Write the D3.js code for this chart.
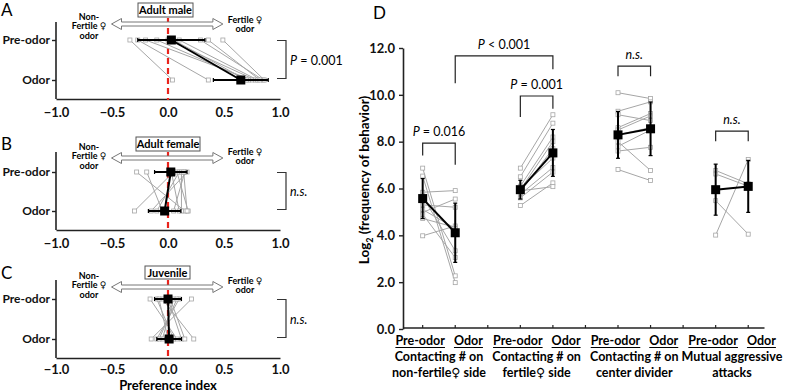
<!DOCTYPE html>
<html lang="en">
<head>
<meta charset="UTF-8">
<title>Preference index and behavior frequency</title>
<style>
  body { margin: 0; background: #fff; }
  svg text { font-family: Lato, "Open Sans", "DejaVu Sans", sans-serif; }
</style>
</head>
<body>
<script src="https://cdn.jsdelivr.net/npm/d3@7"></script>
<script>
// ---- data: panels A-C (preference index) ----
var conditions = ["Pre-odor", "Odor"];
var panelTitles = ["Adult male", "Adult female", "Juvenile"];
var panelLetters = ["A", "B", "C"];
var panelStats = ["P = 0.001", "n.s.", "n.s."];
var xTicks = [-1.0, -0.5, 0.0, 0.5, 1.0];

var maleMean = [0.03, 0.65], maleSd = [0.30, 0.245];
var malePre  = [-0.34, -0.27, -0.20, -0.10, 0.00, 0.05, 0.10, 0.29, 0.36, 0.49];
var maleOdor = [0.04, 0.36, 0.75, 0.72, 0.78, 0.70, 0.80, 0.85, 0.82, 0.86];

var femaleMean = [0.025, -0.03], femaleSd = [0.145, 0.145];
var femalePre  = [-0.28, -0.19, 0.05, 0.08, 0.10, 0.12, 0.15, 0.17, 0.03, 0.14];
var femaleOdor = [0.15, -0.05, -0.30, 0.18, -0.10, 0.12, 0.05, -0.15, 0.10, 0.17];

var juvMean = [0.0, 0.01], juvSd = [0.12, 0.11];
var juvPre  = [-0.16, 0.21, -0.05, 0.00, 0.05, -0.10, 0.10, 0.02, -0.08, 0.08];
var juvOdor = [0.08, -0.15, 0.23, 0.12, -0.05, 0.05, -0.10, 0.15, 0.00, -0.08];

// ---- data: panel D (log2 frequency) ----
var categories = [
  ["Contacting # on", "non-fertile\u2640 side"],
  ["Contacting # on", "fertile\u2640 side"],
  ["Contacting # on", "center divider"],
  ["Mutual aggressive", "attacks"]
];
var yTicksD = [0, 2, 4, 6, 8, 10, 12];
var meanPre  = [5.57, 5.95, 8.29, 5.95];
var meanOdor = [4.11, 7.52, 8.55, 6.09];
var sdPre    = [0.855, 0.40, 1.00, 1.09];
var sdOdor   = [1.265, 1.00, 1.145, 1.11];
var indivPre = [
  [6.87, 6.53, 5.84, 5.65, 5.30, 4.98, 4.90, 4.72, 3.98, 5.10],
  [6.87, 6.50, 6.10, 5.95, 5.85, 5.75, 5.60, 5.27, 5.90, 6.00],
  [10.09, 9.30, 9.15, 8.60, 8.50, 8.30, 8.00, 7.80, 7.60, 6.81],
  [6.77, 6.62, 5.48, 4.01]
];
var indivOdor = [
  [2.27, 1.98, 5.91, 3.34, 5.20, 5.55, 3.05, 4.34, 4.40, 4.30],
  [9.15, 8.79, 8.20, 8.00, 7.70, 6.90, 6.70, 6.24, 6.08, 7.30],
  [9.84, 9.70, 8.90, 9.20, 9.10, 8.60, 6.77, 8.50, 7.76, 6.34],
  [6.20, 6.10, 4.05, 7.24]
];
var statLabels = ["P = 0.016", "P = 0.001", "n.s.", "n.s.", "P < 0.001"];

var W = 785, H = 392;
var svg = d3.select("body").append("svg").attr("width", W).attr("height", H);
var grey = "#a6a6a6";

// ================= Panels A-C =================
var x = d3.scaleLinear().domain([-1, 1]).range([56, 280]);

var panels = [
  { mean: maleMean, sd: maleSd, pre: malePre, odor: maleOdor,
    box: [3, 17], arrow: 24, non: 16, fert: 19, yPre: 40, yOdor: 80, axis: 99, top: 22 },
  { mean: femaleMean, sd: femaleSd, pre: femalePre, odor: femaleOdor,
    box: [137, 151], arrow: 158, non: 146, fert: 151, yPre: 172, yOdor: 211, axis: 230, top: 152 },
  { mean: juvMean, sd: juvSd, pre: juvPre, odor: juvOdor,
    box: [266, 279], arrow: 287, non: 275, fert: 280, yPre: 299, yOdor: 339, axis: 358, top: 280 }
];

panels.forEach(function (p, k) {
  var g = svg.append("g");
  var y = d3.scalePoint().domain(conditions).range([p.yPre, p.yOdor]);

  // letter
  g.append("text").attr("x", 1).attr("y", p.box[0] + 13)
    .attr("font-size", 17).text(panelLetters[k]);

  // x axis
  var xa = g.append("g").attr("transform", "translate(0," + p.axis + ")")
    .call(d3.axisBottom(x).tickValues(xTicks).tickFormat(d3.format(".1f")).tickSize(0).tickPadding(k === 2 ? 7 : 9));
  xa.select(".domain").attr("stroke", "#222").attr("stroke-width", 1.6);
  xa.selectAll("text").attr("font-size", 13).attr("font-weight", "bold")
    .attr("font-family", "Lato, sans-serif").attr("fill", "#111");

  // y axis
  var ya = g.append("g").attr("transform", "translate(56,0)")
    .call(d3.axisLeft(y).tickSize(4).tickSizeOuter(0).tickPadding(2));
  ya.select(".domain").attr("d", "M0," + p.top + "V" + p.axis)
    .attr("stroke", "#222").attr("stroke-width", 1.6);
  ya.selectAll("line").attr("stroke", "#222").attr("stroke-width", 1.4);
  ya.selectAll("text").attr("font-size", 12).attr("font-weight", "bold")
    .attr("font-family", "Lato, sans-serif").attr("fill", "#111");

  // red dashed zero line
  g.append("line").attr("x1", x(0)).attr("x2", x(0))
    .attr("y1", p.box[1] + 1).attr("y2", p.axis + 1)
    .attr("stroke", "#e8231c").attr("stroke-width", 2.2).attr("stroke-dasharray", "6,4");

  // double hollow arrow
  var ax0 = x(-0.5) - 0.5, ax1 = x(0.49), ay = p.arrow;
  var b = 2, hh = 5.5, hl = 10;
  var path = "M" + ax0 + "," + ay +
    "L" + (ax0 + hl) + "," + (ay - hh) + "V" + (ay - b) + "H" + (ax1 - hl) +
    "V" + (ay - hh) + "L" + ax1 + "," + ay + "L" + (ax1 - hl) + "," + (ay + hh) +
    "V" + (ay + b) + "H" + (ax0 + hl) + "V" + (ay + hh) + "Z";
  g.append("path").attr("d", path).attr("fill", "#fff").attr("stroke", "#777").attr("stroke-width", 1);

  // title box
  var tw = { 0: [138, 193], 1: [136, 200], 2: [145, 190] }[k];
  g.append("rect").attr("x", tw[0]).attr("y", p.box[0]).attr("width", tw[1] - tw[0])
    .attr("height", p.box[1] - p.box[0]).attr("fill", "#fff").attr("stroke", "#555").attr("stroke-width", 1);
  g.append("text").attr("x", (tw[0] + tw[1]) / 2).attr("y", (p.box[0] + p.box[1]) / 2 + 4)
    .attr("text-anchor", "middle").attr("font-size", 11).attr("font-weight", "bold").text(panelTitles[k]);

  // side labels
  var left = g.append("text").attr("text-anchor", "middle").attr("font-size", 9).attr("font-weight", "bold");
  ["Non-", "Fertile \u2640", "odor"].forEach(function (s, i) {
    left.append("tspan").attr("x", 89).attr("y", p.non + 3.5 + i * 9.5).text(s);
  });
  var right = g.append("text").attr("text-anchor", "middle").attr("font-size", 9).attr("font-weight", "bold");
  ["Fertile \u2640", "odor"].forEach(function (s, i) {
    right.append("tspan").attr("x", 245).attr("y", p.fert + 3.5 + i * 9.5).text(s);
  });

  // individual lines
  p.pre.forEach(function (v, i) {
    g.append("line").attr("x1", x(v)).attr("y1", y("Pre-odor"))
      .attr("x2", x(p.odor[i])).attr("y2", y("Odor"))
      .attr("stroke", grey).attr("stroke-width", 1);
  });
  var pts = [];
  p.pre.forEach(function (v) { pts.push([v, "Pre-odor"]); });
  p.odor.forEach(function (v) { pts.push([v, "Odor"]); });
  g.selectAll("rect.ind").data(pts).enter().append("rect").attr("class", "ind")
    .attr("x", function (d) { return x(d[0]) - 2; })
    .attr("y", function (d) { return y(d[1]) - 2; })
    .attr("width", 4).attr("height", 4)
    .attr("fill", "#fff").attr("stroke", grey).attr("stroke-width", 0.8);

  // mean line + error bars
  g.append("line").attr("x1", x(p.mean[0])).attr("y1", y("Pre-odor"))
    .attr("x2", x(p.mean[1])).attr("y2", y("Odor"))
    .attr("stroke", "#000").attr("stroke-width", 2);
  conditions.forEach(function (c, i) {
    var lo = x(p.mean[i] - p.sd[i]), hi = x(p.mean[i] + p.sd[i]), yy = y(c);
    g.append("line").attr("x1", lo).attr("x2", hi).attr("y1", yy).attr("y2", yy)
      .attr("stroke", "#000").attr("stroke-width", 2);
    [lo, hi].forEach(function (e) {
      g.append("line").attr("x1", e).attr("x2", e).attr("y1", yy - 2).attr("y2", yy + 2)
        .attr("stroke", "#000").attr("stroke-width", 1.2);
    });
    g.append("rect").attr("x", x(p.mean[i]) - 4.5).attr("y", yy - 4.5)
      .attr("width", 9).attr("height", 9).attr("fill", "#000");
  });

  // significance bracket
  var bx = 286;
  g.append("path")
    .attr("d", "M" + (bx - 9) + "," + (p.yPre + 0.5) + "H" + bx + "V" + (p.yOdor - 1.5) + "H" + (bx - 9))
    .attr("fill", "none").attr("stroke", "#333").attr("stroke-width", 1.2);
  var st = g.append("text").attr("x", bx + 4).attr("y", (p.yPre + p.yOdor) / 2 + 4.5)
    .attr("font-size", 12.5);
  if (panelStats[k] === "n.s.") {
    st.attr("font-style", "italic").text("n.s.");
  } else {
    st.append("tspan").attr("font-style", "italic").text("P");
    st.append("tspan").text(" = 0.001");
  }
});

svg.append("text").attr("x", x(0)).attr("y", 390).attr("text-anchor", "middle")
  .attr("font-size", 13).attr("font-weight", "bold").text("Preference index");

// ================= Panel D =================
var slots = [];
categories.forEach(function (c, i) {
  slots.push(i + "-Pre-odor", i + "-Odor");
  if (i < categories.length - 1) slots.push("gap" + i);
});
var xD = d3.scaleBand().domain(slots).range([406.4, 764.5]);
var cx = function (s) { return xD(s) + xD.bandwidth() / 2; };
var yD = d3.scaleLinear().domain([0, 12]).range([329, 48]);
var axX = 403;

var gD = svg.append("g");
gD.append("text").attr("x", 373).attr("y", 19).attr("font-size", 17).text("D");

var yAx = gD.append("g").attr("transform", "translate(" + axX + ",0)")
  .call(d3.axisLeft(yD).tickValues(yTicksD).tickFormat(d3.format(".1f")).tickSize(4).tickSizeOuter(0).tickPadding(4));
yAx.select(".domain").attr("stroke", "#222").attr("stroke-width", 1.6);
yAx.selectAll("line").attr("stroke", "#222").attr("stroke-width", 1.4);
yAx.selectAll("text").attr("font-size", 13).attr("font-weight", "bold")
  .attr("font-family", "Lato, sans-serif").attr("fill", "#111");

var xAx = gD.append("g").attr("transform", "translate(0,328)")
  .call(d3.axisBottom(xD).tickFormat("").tickSize(-3).tickSizeOuter(0));
xAx.select(".domain").attr("d", "M" + axX + ",0H764.5")
  .attr("stroke", "#222").attr("stroke-width", 1.6);
xAx.selectAll("line").attr("stroke", "#222").attr("stroke-width", 1.2);

// y label
var yl = gD.append("text").attr("transform", "translate(369,180) rotate(-90)")
  .attr("text-anchor", "middle").attr("font-size", 13.5).attr("font-weight", "bold");
yl.append("tspan").text("Log");
yl.append("tspan").attr("font-size", 9).attr("dy", 4).text("2");
yl.append("tspan").attr("dy", -4).text(" (frequency of behavior)");

// group data
categories.forEach(function (cat, i) {
  var sp = cx(i + "-Pre-odor"), so = cx(i + "-Odor");
  indivPre[i].forEach(function (v, j) {
    gD.append("line").attr("x1", sp).attr("y1", yD(v)).attr("x2", so).attr("y2", yD(indivOdor[i][j]))
      .attr("stroke", grey).attr("stroke-width", 1);
  });
  var pts = indivPre[i].map(function (v) { return [sp, v]; })
    .concat(indivOdor[i].map(function (v) { return [so, v]; }));
  gD.selectAll("rect.p" + i).data(pts).enter().append("rect").attr("class", "p" + i)
    .attr("x", function (d) { return d[0] - 2; })
    .attr("y", function (d) { return yD(d[1]) - 2; })
    .attr("width", 4).attr("height", 4)
    .attr("fill", "#fff").attr("stroke", grey).attr("stroke-width", 0.8);

  gD.append("line").attr("x1", sp).attr("y1", yD(meanPre[i])).attr("x2", so).attr("y2", yD(meanOdor[i]))
    .attr("stroke", "#000").attr("stroke-width", 2);
  [[sp, meanPre[i], sdPre[i]], [so, meanOdor[i], sdOdor[i]]].forEach(function (d) {
    var top = yD(d[1] + d[2]), bot = yD(d[1] - d[2]);
    gD.append("line").attr("x1", d[0]).attr("x2", d[0]).attr("y1", top).attr("y2", bot)
      .attr("stroke", "#000").attr("stroke-width", 2);
    [top, bot].forEach(function (e) {
      gD.append("line").attr("x1", d[0] - 2).attr("x2", d[0] + 2).attr("y1", e).attr("y2", e)
        .attr("stroke", "#000").attr("stroke-width", 1.2);
    });
    gD.append("rect").attr("x", d[0] - 4.5).attr("y", yD(d[1]) - 4.5)
      .attr("width", 9).attr("height", 9).attr("fill", "#000");
  });

  // x labels
  var c = (sp + so) / 2;
  var t1 = gD.append("text").attr("x", c + 6).attr("y", 345).attr("text-anchor", "end")
    .attr("font-size", 12.5).attr("font-weight", "bold").text(conditions[0]);
  var t2 = gD.append("text").attr("x", c + 15).attr("y", 345).attr("text-anchor", "start")
    .attr("font-size", 12.5).attr("font-weight", "bold").text(conditions[1]);
  var w1 = t1.node().getComputedTextLength(), w2 = t2.node().getComputedTextLength();
  gD.append("line").attr("x1", c + 6 - w1).attr("x2", c + 6).attr("y1", 347.5).attr("y2", 347.5)
    .attr("stroke", "#000").attr("stroke-width", 1);
  gD.append("line").attr("x1", c + 15).attr("x2", c + 15 + w2).attr("y1", 347.5).attr("y2", 347.5)
    .attr("stroke", "#000").attr("stroke-width", 1);
  cat.forEach(function (s, k) {
    gD.append("text").attr("x", c).attr("y", 361 + k * 16).attr("text-anchor", "middle")
      .attr("font-size", 12.5).attr("font-weight", "bold").text(s);
  });
});

// brackets: [left slot, right slot, bar value, left leg end, right leg end, label index]
var brackets = [
  ["0-Pre-odor", "0-Odor", 7.94, 7.41, 7.01, 0],
  ["1-Pre-odor", "1-Odor", 9.95, 9.05, 9.41, 1],
  ["2-Pre-odor", "2-Odor", 11.23, 10.79, 10.79, 2],
  ["3-Pre-odor", "3-Odor", 8.45, 8.02, 8.02, 3],
  ["0-Odor", "1-Odor", 11.66, 10.50, 11.09, 4]
];
brackets.forEach(function (b) {
  var x1 = cx(b[0]), x2 = cx(b[1]);
  gD.append("path")
    .attr("d", "M" + x1 + "," + yD(b[3]) + "V" + yD(b[2]) + "H" + x2 + "V" + yD(b[4]))
    .attr("fill", "none").attr("stroke", "#222").attr("stroke-width", 1.2);
  var lab = statLabels[b[5]];
  var t = gD.append("text").attr("x", (x1 + x2) / 2).attr("y", yD(b[2]) - 7)
    .attr("text-anchor", "middle").attr("font-size", 12.5);
  if (lab === "n.s.") {
    t.attr("font-style", "italic").text(lab);
  } else {
    t.append("tspan").attr("font-style", "italic").text("P");
    t.append("tspan").text(lab.slice(1));
  }
});
</script>
</body>
</html>
